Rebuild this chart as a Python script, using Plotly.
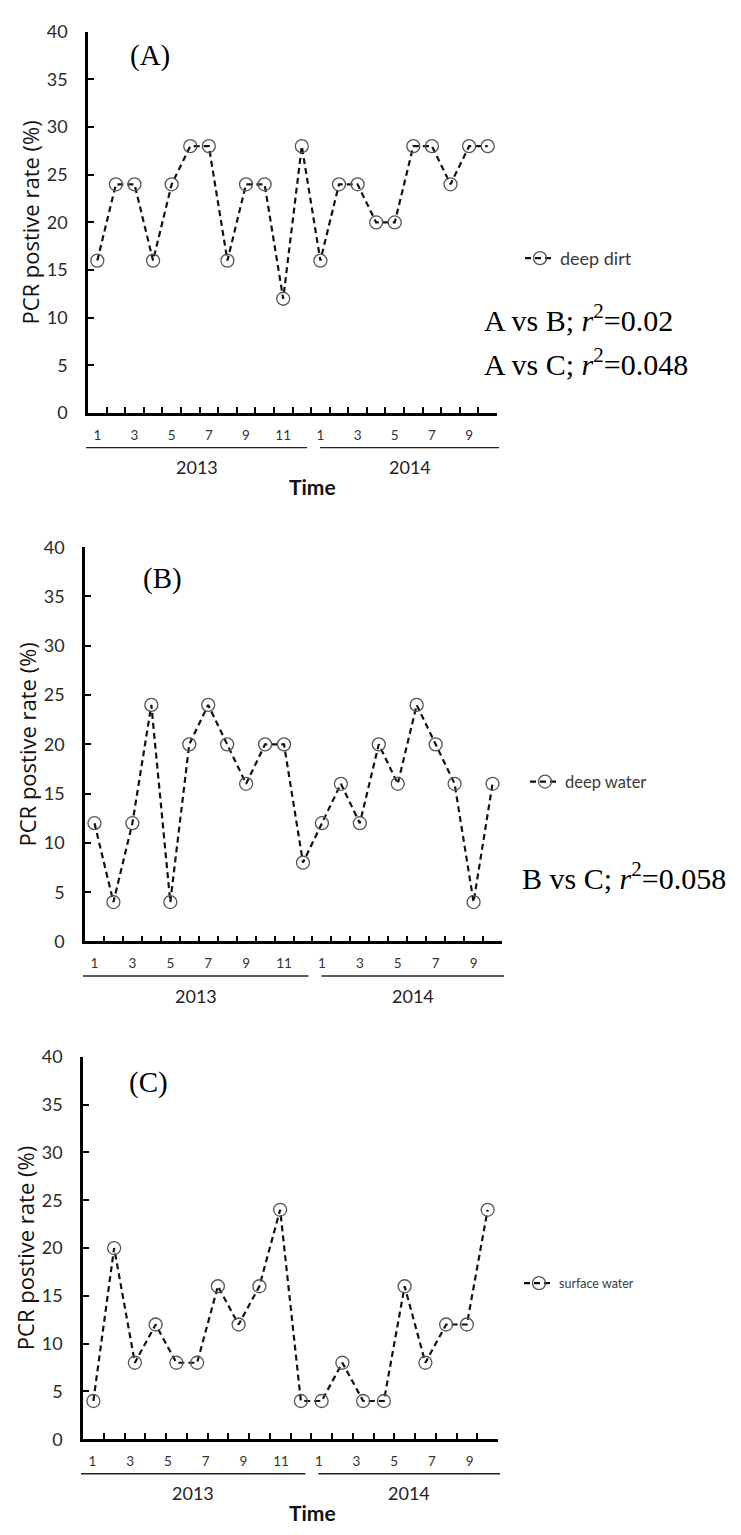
import plotly.graph_objects as go

W, H = 741, 1535

# ---------------- data ----------------
months_2013 = [str(m) for m in range(1, 13)]
months_2014 = [str(m) for m in range(1, 11)]
years = ["2013", "2014"]
deep_dirt = [16, 24, 24, 16, 24, 28, 28, 16, 24, 24, 12, 28,
             16, 24, 24, 20, 20, 28, 28, 24, 28, 28]
deep_water = [12, 4, 12, 24, 4, 20, 24, 20, 16, 20, 20, 8,
              12, 16, 12, 20, 16, 24, 20, 16, 4, 16]
surface_water = [4, 20, 8, 12, 8, 8, 16, 12, 16, 24, 4,
                 4, 8, 4, 4, 16, 8, 12, 12, 24]
y_ticks = list(range(0, 41, 5))
panel_tags = ["(A)", "(B)", "(C)"]
series_names = ["deep dirt", "deep water", "surface water"]
series_values = [deep_dirt, deep_water, surface_water]
r2_notes = [
    ["A vs B; <i>r</i><sup>2</sup>=0.02", "A vs C; <i>r</i><sup>2</sup>=0.048"],
    ["B vs C; <i>r</i><sup>2</sup>=0.058"],
    [],
]

# ---------------- layout geometry (pixels) ----------------
panels = [
    dict(l=88, r=497, t=20, b=407),
    dict(l=85, r=502, t=543, b=943),
    dict(l=83, r=498, t=1060, b=1448),
]
tag_pos = [(150, 44), (162, 575), (148, 1086)]
legend_pos = [(520, 250, 18), (525, 781, 16.5), (519, 1290, 12.5)]
r2_pos = [[(482, 310), (482, 355)], [(520, 877)], []]
show_time = [True, False, True]

SANS = "Lato, 'Open Sans', sans-serif"
SERIF = "'Liberation Serif', 'Times New Roman', serif"

def px_x(p):
    return p / W

def px_y(p):
    return 1 - p / H

month_labels = months_2013 + months_2014
n_slots = len(month_labels)
label_vals = [i + 1 for i, m in enumerate(month_labels) if int(m) % 2 == 1]
label_text = [m for m in month_labels if int(m) % 2 == 1]

fig = go.Figure()
layout = dict(
    width=W, height=H,
    margin=dict(l=0, r=0, t=0, b=0),
    paper_bgcolor="white", plot_bgcolor="white",
    showlegend=True,
    annotations=[], shapes=[],
)

for i, (g, name, vals) in enumerate(zip(panels, series_names, series_values)):
    k = i + 1
    xa = "x" if k == 1 else f"x{k}"
    ya = "y" if k == 1 else f"y{k}"
    xl = f"x{k + 3}"
    leg = "legend" if k == 1 else f"legend{k}"
    n = len(vals)
    xs = list(range(1, n + 1))
    fig.add_trace(go.Scatter(
        x=xs, y=vals, xaxis=xa, yaxis=ya, name=name, legend=leg,
        mode="lines+markers",
        line=dict(color="#111111", width=2.2, dash="6px,4px"),
        marker=dict(symbol="circle-open", size=13, color="#555555",
                    line=dict(width=1.3, color="#555555")),
        cliponaxis=False,
    ))
    # invisible carrier so the month-label axis is drawn
    fig.add_trace(go.Scatter(
        x=label_vals, y=[None] * len(label_vals), xaxis=xl, yaxis=ya,
        mode="markers", showlegend=False, hoverinfo="skip",
        marker=dict(opacity=0),
    ))
    xdom = [px_x(g["l"]), px_x(g["r"])]
    ydom = [px_y(g["b"]), px_y(g["t"])]
    xkey = "xaxis" if k == 1 else f"xaxis{k}"
    ykey = "yaxis" if k == 1 else f"yaxis{k}"
    layout[xkey] = dict(
        domain=xdom, anchor=ya, range=[0.5, n + 0.5],
        showline=True, linecolor="black", linewidth=2.5,
        showgrid=False, zeroline=False,
        tickmode="array", tickvals=[j + 0.5 for j in range(0, n + 1)],
        ticks="inside", ticklen=6, tickwidth=2, tickcolor="black",
        showticklabels=False,
    )
    layout[ykey] = dict(
        domain=ydom, anchor=xa, range=[0, 40],
        showline=True, linecolor="black", linewidth=2.5,
        showgrid=False, zeroline=False,
        tickmode="array", tickvals=y_ticks,
        ticks="inside", ticklen=6, tickwidth=2, tickcolor="black",
        tickfont=dict(family=SANS, size=18, color="#2a2a2a"),
        ticklabelstandoff=14,
        title=dict(text="PCR postive rate (%)",
                   font=dict(family="'Open Sans', Lato, sans-serif", size=22,
                             color="#111111"),
                   standoff=2),
    )
    # month label axis (22 monthly slots, 2013-01 .. 2014-10)
    layout[f"xaxis{k + 3}"] = dict(
        overlaying=xa, anchor=ya, side="bottom",
        range=[0.5, n_slots + 0.5],
        showline=False, showgrid=False, zeroline=False,
        tickmode="array", tickvals=label_vals, ticktext=label_text,
        ticks="", ticklabelstandoff=12,
        tickfont=dict(family=SANS, size=13.5, color="#333333"),
    )
    # year underlines and labels
    w_slot = (g["r"] - g["l"]) / n_slots
    line_y = g["b"] + 35
    spans = [(0, len(months_2013)), (len(months_2013), n_slots)]
    for (a, b), yr in zip(spans, years):
        x0 = g["l"] + a * w_slot + (-2 if a == 0 else 9)
        x1 = g["l"] + b * w_slot + (-4 if b < n_slots else 2)
        layout["shapes"].append(dict(
            type="line", xref="paper", yref="paper",
            x0=px_x(x0), x1=px_x(x1), y0=px_y(line_y), y1=px_y(line_y),
            line=dict(color="#222222", width=1.3)))
        layout["annotations"].append(dict(
            text=yr, xref="paper", yref="paper",
            x=px_x((x0 + x1) / 2), y=px_y(line_y + 20),
            showarrow=False, xanchor="center", yanchor="middle",
            font=dict(family=SANS, size=18, color="#222222")))
    if show_time[i]:
        layout["annotations"].append(dict(
            text="<b>Time</b>", xref="paper", yref="paper",
            x=px_x(312), y=px_y(line_y + 39),
            showarrow=False, xanchor="center", yanchor="middle",
            font=dict(family=SANS, size=21, color="#111111")))
    # panel tag
    tx, ty = tag_pos[i]
    layout["annotations"].append(dict(
        text=panel_tags[i], xref="paper", yref="paper",
        x=px_x(tx), y=px_y(ty), showarrow=False,
        xanchor="center", yanchor="middle",
        font=dict(family=SERIF, size=29, color="black")))
    # r^2 notes
    for txt, (rx, ry) in zip(r2_notes[i], r2_pos[i]):
        layout["annotations"].append(dict(
            text=txt, xref="paper", yref="paper",
            x=px_x(rx), y=px_y(ry), showarrow=False,
            xanchor="left", yanchor="middle",
            font=dict(family=SERIF, size=30, color="black")))
    # legend
    lx, ly, lsz = legend_pos[i]
    layout[leg] = dict(
        x=px_x(lx), y=px_y(ly), xanchor="left", yanchor="middle",
        bgcolor="rgba(0,0,0,0)", borderwidth=0,
        font=dict(family=SANS, size=lsz, color="#3a3a3a"),
        itemwidth=30,
    )

fig.update_layout(**layout)
fig.write_html(
    "out.html",
    post_script="document.body.style.margin='0';document.body.style.padding='0';",
)
